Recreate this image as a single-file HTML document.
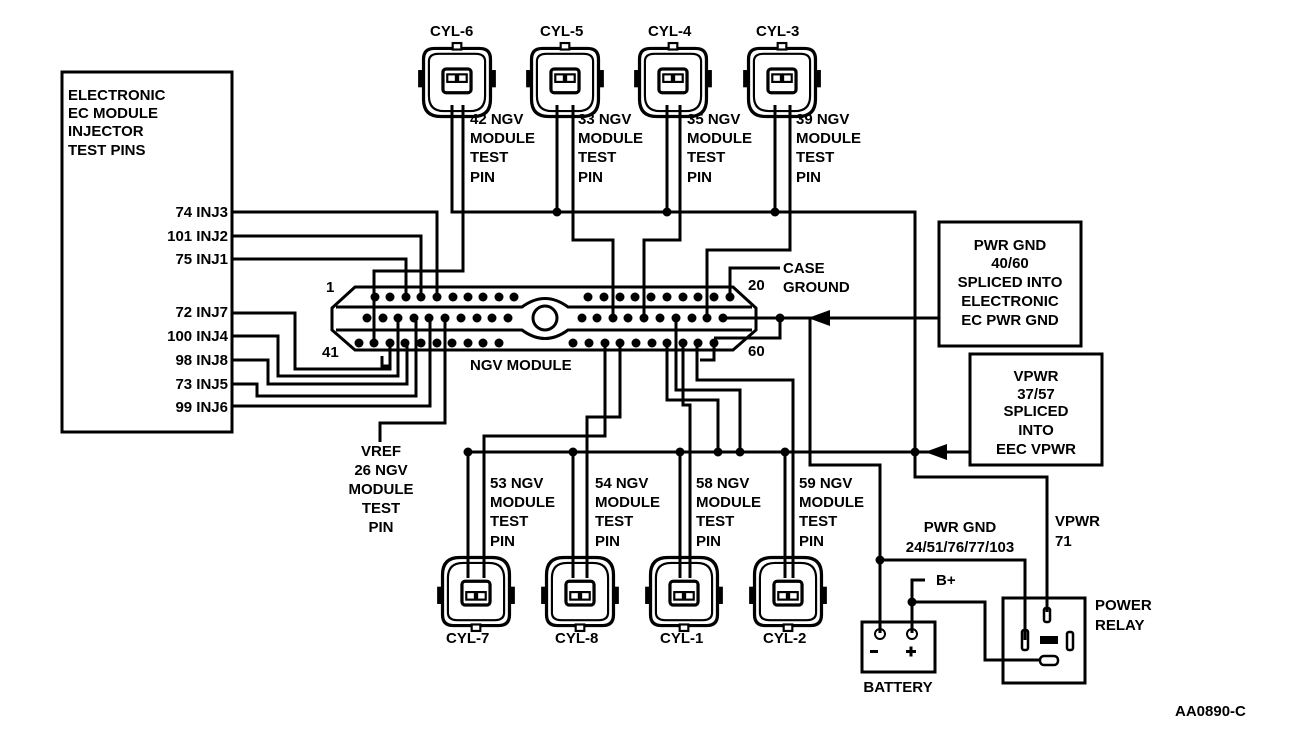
<!DOCTYPE html>
<html><head><meta charset="utf-8"><style>
html,body{margin:0;padding:0;background:#fff;}
svg{display:block;}
text{font-family:"Liberation Sans",Arial,sans-serif;font-weight:bold;font-size:15px;fill:#000;}
</style></head><body>
<svg width="1312" height="742" viewBox="0 0 1312 742" xmlns="http://www.w3.org/2000/svg">
<defs>
<g id="conn">
  <path d="M-31,-22 Q-31,-32 -21,-32 L21,-32 Q31,-32 31,-22 L31,15 Q31,31 15,31 L-15,31 Q-31,31 -31,15 Z" fill="none" stroke="#000" stroke-width="3"/>
  <path d="M-26,-20 Q-26,-27 -17,-27 L17,-27 Q26,-27 26,-20 L26,12 Q26,26 12,26 L-12,26 Q-26,26 -26,12 Z" fill="none" stroke="#000" stroke-width="2"/>
  <rect x="-4" y="-37" width="8" height="6" fill="#fff" stroke="#000" stroke-width="2"/>
  <rect x="-36" y="-12" width="5" height="16" fill="#000"/>
  <rect x="31" y="-12" width="5" height="16" fill="#000"/>
  <rect x="-13" y="-13" width="26" height="22" rx="3" fill="none" stroke="#000" stroke-width="3"/>
  <rect x="-9" y="-8" width="8" height="7" fill="none" stroke="#000" stroke-width="2"/>
  <rect x="1" y="-8" width="8" height="7" fill="none" stroke="#000" stroke-width="2"/>
</g>
</defs>
<g fill="none" stroke="#000" stroke-width="3">
<rect x="62" y="72" width="170" height="360"/>
<path d="M355,287 L733,287 L756,308 L756,330 L733,350 L355,350 L332,330 L332,308 Z"/>
<path d="M336,307 L522,307 Q545,290 568,307 L752,307"/>
<path d="M336,330 L522,330 Q545,347 568,330 L752,330"/>
<circle cx="545" cy="318" r="12"/>
<path d="M452,105 L452,212 L915,212 L915,477 L1047,477 L1047,612"/>
<path d="M557,105 L557,212 M667,105 L667,212 M775,105 L775,212"/>
<path d="M463,105 L463,271 L374,271 L374,343"/>
<path d="M573,105 L573,240 L613,240 L613,318"/>
<path d="M680,105 L680,240 L644,240 L644,318"/>
<path d="M790,105 L790,250 L707,250 L707,318"/>
<path d="M730,297 L730,268 L780,268"/>
<path d="M233,212 L437,212 L437,297"/>
<path d="M233,236 L421,236 L421,297"/>
<path d="M233,259 L406,259 L406,297"/>
<path d="M233,313 L295,313 L295,369 L390,369 L390,343"/>
<path d="M382,356 L382,366 L390,366"/>
<path d="M233,336 L278,336 L278,376 L398,376 L398,318"/>
<path d="M233,360 L268,360 L268,384 L407,384 L407,343"/>
<path d="M233,384 L257,384 L257,396 L416,396 L416,318"/>
<path d="M233,406 L430,406 L430,318"/>
<path d="M445,318 L445,423 L380,423 L380,442"/>
<path d="M723,318 L939,318"/>
<path d="M780,318 L780,338 L714,338"/>
<path d="M810,318 L810,465 L880,465 L880,633"/>
<path d="M880,560 L1025,560 L1025,640"/>
<path d="M912,633 L912,580 L925,580"/>
<path d="M912,602 L985,602 L985,660 L1040,660"/>
<path d="M714,343 L714,360 L700,360"/>
<path d="M605,343 L605,436 L484,436 L484,578"/>
<path d="M620,343 L620,417 L587,417 L587,578"/>
<path d="M667,343 L667,400 L718,400 L718,452"/>
<path d="M676,318 L676,390 L740,390 L740,452"/>
<path d="M683,343 L683,405 L690,405 L690,578"/>
<path d="M697,343 L697,380 L793,380 L793,578"/>
<path d="M468,452 L970,452"/>
<path d="M468,452 L468,578 M573,452 L573,578 M680,452 L680,578 M785,452 L785,578"/>
<rect x="939" y="222" width="142" height="124"/>
<rect x="970" y="354" width="132" height="111"/>
<rect x="862" y="622" width="73" height="50"/>
<rect x="1003" y="598" width="82" height="85"/>
<circle cx="880" cy="634" r="5" stroke-width="2"/>
<circle cx="912" cy="634" r="5" stroke-width="2"/>
</g>
<path d="M808,318 L830,310 L830,326 Z" fill="#000"/>
<path d="M925,452 L947,444 L947,460 Z" fill="#000"/>
<g fill="none" stroke="#000" stroke-width="2.5">
<rect x="1044" y="608" width="6" height="14" rx="2"/>
<rect x="1022" y="630" width="6" height="20" rx="2"/>
<rect x="1067" y="632" width="6" height="18" rx="2"/>
<rect x="1040" y="656" width="18" height="9" rx="4"/>
</g>
<rect x="1040" y="636" width="18" height="8" fill="#000"/>
<g fill="#000">
<circle cx="557" cy="212" r="4.5"/><circle cx="667" cy="212" r="4.5"/><circle cx="775" cy="212" r="4.5"/>
<circle cx="780" cy="318" r="4.5"/><circle cx="915" cy="452" r="4.5"/>
<circle cx="468" cy="452" r="4.5"/><circle cx="573" cy="452" r="4.5"/><circle cx="680" cy="452" r="4.5"/>
<circle cx="718" cy="452" r="4.5"/><circle cx="740" cy="452" r="4.5"/><circle cx="785" cy="452" r="4.5"/>
<circle cx="880" cy="560" r="4.5"/><circle cx="912" cy="602" r="4.5"/>
<rect x="870" y="650" width="8" height="3"/><rect x="906" y="650" width="10" height="3"/><rect x="909.5" y="646.5" width="3" height="10"/>
</g>
<g fill="#000">
<circle cx="375" cy="297" r="4.5"/><circle cx="390" cy="297" r="4.5"/><circle cx="406" cy="297" r="4.5"/><circle cx="421" cy="297" r="4.5"/><circle cx="437" cy="297" r="4.5"/><circle cx="453" cy="297" r="4.5"/><circle cx="468" cy="297" r="4.5"/><circle cx="483" cy="297" r="4.5"/><circle cx="499" cy="297" r="4.5"/><circle cx="514" cy="297" r="4.5"/>
<circle cx="588" cy="297" r="4.5"/><circle cx="604" cy="297" r="4.5"/><circle cx="620" cy="297" r="4.5"/><circle cx="635" cy="297" r="4.5"/><circle cx="651" cy="297" r="4.5"/><circle cx="667" cy="297" r="4.5"/><circle cx="683" cy="297" r="4.5"/><circle cx="698" cy="297" r="4.5"/><circle cx="714" cy="297" r="4.5"/><circle cx="730" cy="297" r="4.5"/>
<circle cx="367" cy="318" r="4.5"/><circle cx="383" cy="318" r="4.5"/><circle cx="398" cy="318" r="4.5"/><circle cx="414" cy="318" r="4.5"/><circle cx="429" cy="318" r="4.5"/><circle cx="445" cy="318" r="4.5"/><circle cx="461" cy="318" r="4.5"/><circle cx="477" cy="318" r="4.5"/><circle cx="492" cy="318" r="4.5"/><circle cx="508" cy="318" r="4.5"/>
<circle cx="582" cy="318" r="4.5"/><circle cx="597" cy="318" r="4.5"/><circle cx="613" cy="318" r="4.5"/><circle cx="628" cy="318" r="4.5"/><circle cx="644" cy="318" r="4.5"/><circle cx="660" cy="318" r="4.5"/><circle cx="676" cy="318" r="4.5"/><circle cx="692" cy="318" r="4.5"/><circle cx="707" cy="318" r="4.5"/><circle cx="723" cy="318" r="4.5"/>
<circle cx="359" cy="343" r="4.5"/><circle cx="374" cy="343" r="4.5"/><circle cx="390" cy="343" r="4.5"/><circle cx="405" cy="343" r="4.5"/><circle cx="421" cy="343" r="4.5"/><circle cx="437" cy="343" r="4.5"/><circle cx="452" cy="343" r="4.5"/><circle cx="468" cy="343" r="4.5"/><circle cx="483" cy="343" r="4.5"/><circle cx="499" cy="343" r="4.5"/>
<circle cx="573" cy="343" r="4.5"/><circle cx="589" cy="343" r="4.5"/><circle cx="605" cy="343" r="4.5"/><circle cx="620" cy="343" r="4.5"/><circle cx="636" cy="343" r="4.5"/><circle cx="652" cy="343" r="4.5"/><circle cx="667" cy="343" r="4.5"/><circle cx="683" cy="343" r="4.5"/><circle cx="698" cy="343" r="4.5"/><circle cx="714" cy="343" r="4.5"/>
</g>
<use href="#conn" transform="translate(457,83) scale(1.08)"/>
<use href="#conn" transform="translate(565,83) scale(1.08)"/>
<use href="#conn" transform="translate(673,83) scale(1.08)"/>
<use href="#conn" transform="translate(782,83) scale(1.08)"/>
<use href="#conn" transform="translate(476,591) rotate(180) scale(1.08)"/>
<use href="#conn" transform="translate(580,591) rotate(180) scale(1.08)"/>
<use href="#conn" transform="translate(684,591) rotate(180) scale(1.08)"/>
<use href="#conn" transform="translate(788,591) rotate(180) scale(1.08)"/>
<text x="430" y="36">CYL-6</text><text x="540" y="36">CYL-5</text><text x="648" y="36">CYL-4</text><text x="756" y="36">CYL-3</text>
<text x="446" y="643">CYL-7</text><text x="555" y="643">CYL-8</text><text x="660" y="643">CYL-1</text><text x="763" y="643">CYL-2</text>
<g>
<text x="470" y="124">42 NGV</text><text x="470" y="143">MODULE</text><text x="470" y="162">TEST</text><text x="470" y="182">PIN</text>
<text x="578" y="124">33 NGV</text><text x="578" y="143">MODULE</text><text x="578" y="162">TEST</text><text x="578" y="182">PIN</text>
<text x="687" y="124">35 NGV</text><text x="687" y="143">MODULE</text><text x="687" y="162">TEST</text><text x="687" y="182">PIN</text>
<text x="796" y="124">39 NGV</text><text x="796" y="143">MODULE</text><text x="796" y="162">TEST</text><text x="796" y="182">PIN</text>
<text x="490" y="488">53 NGV</text><text x="490" y="507">MODULE</text><text x="490" y="526">TEST</text><text x="490" y="546">PIN</text>
<text x="595" y="488">54 NGV</text><text x="595" y="507">MODULE</text><text x="595" y="526">TEST</text><text x="595" y="546">PIN</text>
<text x="696" y="488">58 NGV</text><text x="696" y="507">MODULE</text><text x="696" y="526">TEST</text><text x="696" y="546">PIN</text>
<text x="799" y="488">59 NGV</text><text x="799" y="507">MODULE</text><text x="799" y="526">TEST</text><text x="799" y="546">PIN</text>
</g>
<text x="68" y="100">ELECTRONIC</text><text x="68" y="118">EC MODULE</text><text x="68" y="136">INJECTOR</text><text x="68" y="155">TEST PINS</text>
<g text-anchor="end">
<text x="228" y="217">74 INJ3</text><text x="228" y="241">101 INJ2</text><text x="228" y="264">75 INJ1</text>
<text x="228" y="317">72 INJ7</text><text x="228" y="341">100 INJ4</text><text x="228" y="365">98 INJ8</text>
<text x="228" y="389">73 INJ5</text><text x="228" y="412">99 INJ6</text>
</g>
<text x="326" y="292">1</text><text x="322" y="357">41</text><text x="748" y="290">20</text><text x="748" y="356">60</text>
<text x="470" y="370">NGV MODULE</text>
<text x="783" y="273">CASE</text><text x="783" y="292">GROUND</text>
<g text-anchor="middle">
<text x="381" y="456">VREF</text><text x="381" y="475">26 NGV</text><text x="381" y="494">MODULE</text><text x="381" y="513">TEST</text><text x="381" y="532">PIN</text>
<text x="1010" y="250">PWR GND</text><text x="1010" y="268">40/60</text><text x="1010" y="287">SPLICED INTO</text><text x="1010" y="306">ELECTRONIC</text><text x="1010" y="325">EC PWR GND</text>
<text x="1036" y="381">VPWR</text><text x="1036" y="399">37/57</text><text x="1036" y="416">SPLICED</text><text x="1036" y="435">INTO</text><text x="1036" y="454">EEC VPWR</text>
<text x="960" y="532">PWR GND</text><text x="960" y="552">24/51/76/77/103</text>
<text x="898" y="692">BATTERY</text>
</g>
<text x="1055" y="526">VPWR</text><text x="1055" y="546">71</text>
<text x="936" y="585">B+</text>
<text x="1095" y="610">POWER</text><text x="1095" y="630">RELAY</text>
<text x="1175" y="716">AA0890-C</text>
</svg>
</body></html>
